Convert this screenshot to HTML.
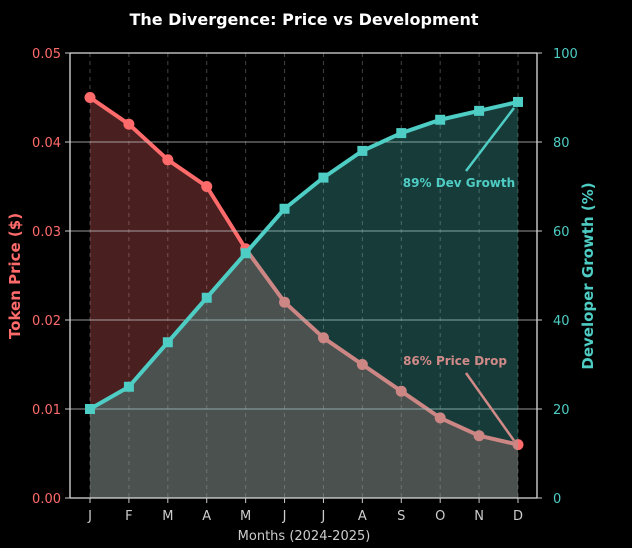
<!DOCTYPE html>
<html><head><meta charset="utf-8"><style>
html,body{margin:0;padding:0;background:#000;}
svg{display:block;font-family:"DejaVu Sans","Liberation Sans",sans-serif;}
</style></head><body>
<svg id="chart" width="632" height="548" viewBox="0 0 632 548">
<rect width="632" height="548" fill="#000"/>
<text x="304" y="25" fill="#fff" font-size="16" font-weight="bold" text-anchor="middle">The Divergence: Price vs Development</text>
<g id="plot"></g>
</svg>
<script>
const months=['J','F','M','A','M','J','J','A','S','O','N','D'];
const priceValues=[0.045,0.042,0.038,0.035,0.028,0.022,0.018,0.015,0.012,0.009,0.007,0.006];
const devValues=[20,25,35,45,55,65,72,78,82,85,87,89];
const priceTicks=[0,0.01,0.02,0.03,0.04,0.05];
const devTicks=[0,20,40,60,80,100];

const NS='http://www.w3.org/2000/svg';
const g=document.getElementById('plot');
const L=70,R=537,T=53,B=498,X0=90,X1=518;
const xs=i=>X0+(X1-X0)*i/(months.length-1);
const yP=v=>B-(B-T)*v/0.05;
const yD=v=>B-(B-T)*v/100;
function mk(tag,attrs,parent){const e=document.createElementNS(NS,tag);for(const k in attrs)e.setAttribute(k,attrs[k]);(parent||g).appendChild(e);return e;}

months.forEach((m,i)=>{
  const l=mk('line',{x1:xs(i),x2:xs(i),y1:T,y2:B,stroke:'#444',"stroke-width":1,"stroke-dasharray":'4,4'});
  
  
});
let pts=priceValues.map((v,i)=>xs(i)+','+yP(v)).join(' ');
let redFill=mk('polygon',{points:X0+','+B+' '+pts+' '+X1+','+B,fill:'#ff6b6b',"fill-opacity":0.29});


let redLine=mk('polyline',{points:pts,fill:'none',stroke:'#ff6b6b',"stroke-width":4,"stroke-linejoin":'round'});


priceValues.forEach((v,i)=>{
  const c=mk('circle',{cx:xs(i),cy:yP(v),r:5.5,fill:'#ff6b6b'});
  
  
});
devTicks.slice(1,5).forEach(t=>{
  const l=mk('line',{x1:L,x2:R,y1:yD(t),y2:yD(t),stroke:'#bbb',"stroke-width":1,"stroke-opacity":0.8});
  
  
});
let dpts=devValues.map((v,i)=>xs(i)+','+yD(v)).join(' ');
let tealFill=mk('polygon',{points:X0+','+B+' '+dpts+' '+X1+','+B,fill:'#4ecdc4',"fill-opacity":0.29});


let tealLine=mk('polyline',{points:dpts,fill:'none',stroke:'#4ecdc4',"stroke-width":4,"stroke-linejoin":'round'});


devValues.forEach((v,i)=>{
  const s=mk('rect',{x:xs(i)-5,y:yD(v)-5,width:10,height:10,fill:'#4ecdc4'});
  
  
});
[[L,T,L,B],[R,T,R,B],[L,B,R,B],[L,T,R,T]].forEach(s=>{
  const l=mk('line',{x1:s[0],y1:s[1],x2:s[2],y2:s[3],stroke:'#ddd',"stroke-width":1.3});
  
  
});
priceTicks.forEach(t=>{
  mk('line',{x1:L-5,x2:L,y1:yP(t),y2:yP(t),stroke:'#ccc'});
  const tx=mk('text',{x:L-9,y:yP(t)+5,fill:'#ff6b6b',"font-size":13,"text-anchor":'end'});
  tx.textContent=t.toFixed(2);
  
  
});
devTicks.forEach(t=>{
  mk('line',{x1:R,x2:R+5,y1:yD(t),y2:yD(t),stroke:'#ccc'});
  const tx=mk('text',{x:R+16,y:yD(t)+5,fill:'#4ecdc4',"font-size":13,"text-anchor":'start'});
  tx.textContent=t;
  
  
});
months.forEach((m,i)=>{
  mk('line',{x1:xs(i),x2:xs(i),y1:B,y2:B+5,stroke:'#ccc'});
  const tx=mk('text',{x:xs(i),y:B+22,fill:'#ccc',"font-size":13,"text-anchor":'middle'});
  tx.textContent=m;
  
  
});
let t1=mk('text',{x:0,y:0,fill:'#ff6b6b',"font-size":15,"font-weight":'bold',"text-anchor":'middle',transform:'translate(20,276) rotate(-90)'});
t1.textContent='Token Price ($)';


let t2=mk('text',{x:0,y:0,fill:'#4ecdc4',"font-size":15,"font-weight":'bold',"text-anchor":'middle',transform:'translate(593,276) rotate(-90)'});
t2.textContent='Developer Growth (%)';


let t3=mk('text',{x:304,y:540,fill:'#ccc',"font-size":13,"text-anchor":'middle'});
t3.textContent='Months (2024-2025)';


const last=months.length-1;
let a1=mk('line',{x1:466,y1:171,x2:xs(last)-4,y2:yD(devValues[last])+6,stroke:'#4ecdc4',"stroke-width":2.5});


let n1=mk('text',{x:459,y:187,fill:'#4ecdc4',"font-size":12,"font-weight":'bold',"text-anchor":'middle'});
n1.textContent='89% Dev Growth';


let a2=mk('line',{x1:466,y1:373,x2:xs(last)-4,y2:yP(priceValues[last])-4,stroke:'#d08a88',"stroke-width":2.5});


let n2=mk('text',{x:455,y:365,fill:'#d08a88',"font-size":12,"font-weight":'bold',"text-anchor":'middle'});
n2.textContent='86% Price Drop';


</script>
</body></html>
